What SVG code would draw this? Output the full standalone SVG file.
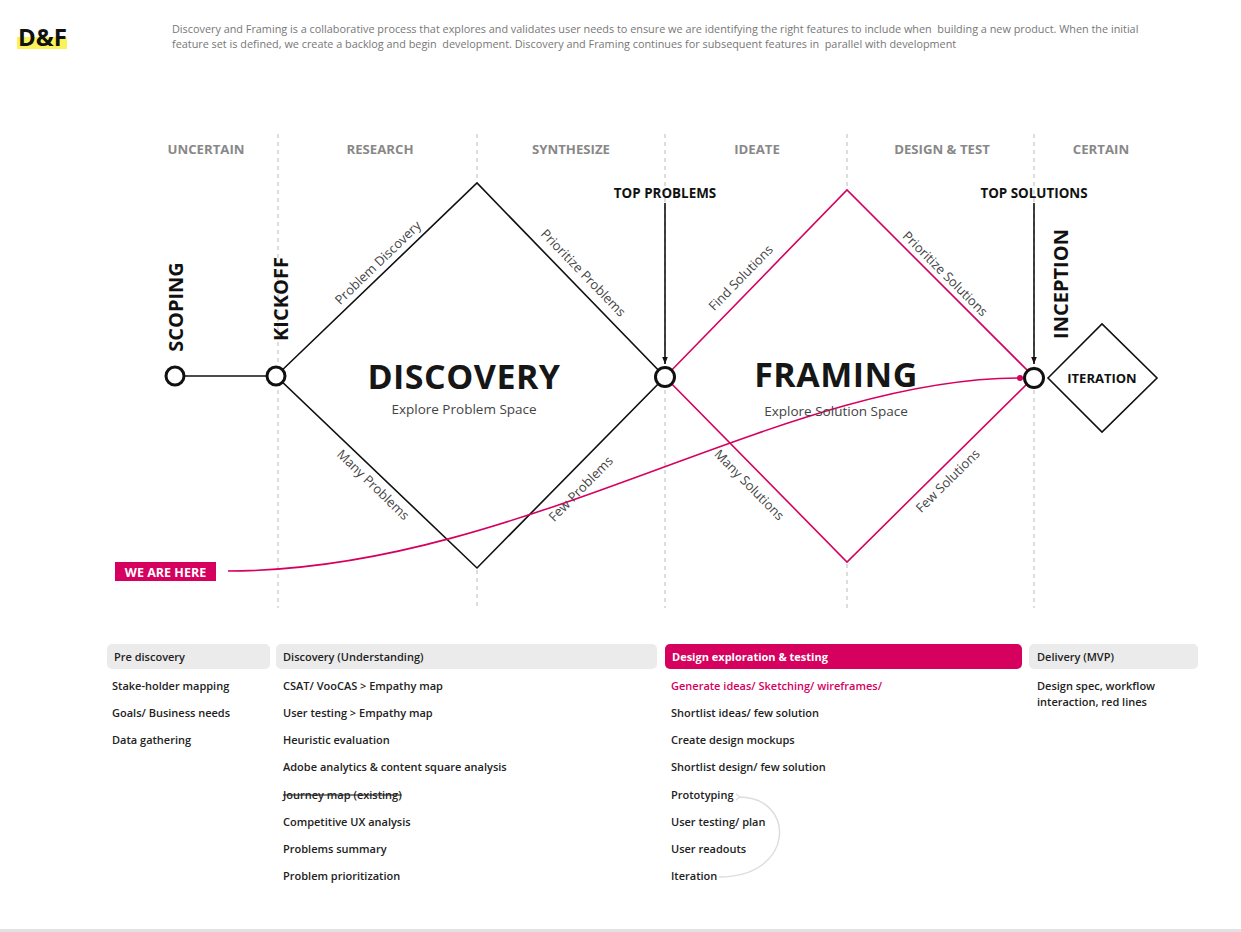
<svg xmlns="http://www.w3.org/2000/svg" width="1241" height="932" viewBox="0 0 1241 932">
<style>
text{font-family:"Open Sans","Liberation Sans",sans-serif}
.desc{font-size:10.85px;fill:#777;white-space:pre}
.col{font-size:13.2px;font-weight:700;fill:#888;text-anchor:middle}
.vert{font-size:20px;font-weight:700;fill:#111;text-anchor:middle}
.edge{font-size:13px;fill:#444;text-anchor:middle}
.big{font-size:34px;font-weight:700;fill:#161616;text-anchor:middle;letter-spacing:0.5px}
.sub{font-size:13.5px;fill:#444;text-anchor:middle}
.top{font-size:13.4px;font-weight:700;fill:#111;text-anchor:middle}
.hdr{font-size:11px;font-weight:600;fill:#222}
.item{font-size:11px;font-weight:600;fill:#222}
.dash{stroke:#bbb;stroke-width:1;stroke-dasharray:4 4;fill:none}
.node{fill:#fff;stroke:#111;stroke-width:3}
.blk{fill:none;stroke:#111;stroke-width:1.6}
.pink{fill:none;stroke:#d6005e;stroke-width:1.6}
.hbox{fill:#ebebeb}
</style>
<defs>
<marker id="arr" viewBox="0 0 10 10" refX="10" refY="5" markerWidth="7" markerHeight="10" markerUnits="userSpaceOnUse" orient="auto">
<path d="M0,1 L10,5 L0,9 Z" fill="#111"/>
</marker>
<marker id="garr" viewBox="0 0 10 10" refX="2" refY="5" markerWidth="8" markerHeight="8" markerUnits="userSpaceOnUse" orient="auto">
<path d="M6,1 L1,5 L6,9" fill="none" stroke="#ddd" stroke-width="1.5"/>
</marker>
</defs>
<rect width="1241" height="932" fill="#fff"/>
<rect x="0" y="929" width="1241" height="3" fill="#e2e2e2"/>

<g id="title">
<rect x="17" y="37" width="50" height="12" fill="#fbf25a"/>
<text x="18" y="46" font-size="24" font-weight="700" fill="#111">D&amp;F</text>
</g>
<g id="description">
<text class="desc" x="172" y="33">Discovery and Framing is a collaborative process that explores and validates user needs to ensure we are identifying the right features to include when  building a new product. When the initial</text>
<text class="desc" x="172" y="48">feature set is defined, we create a backlog and begin  development. Discovery and Framing continues for subsequent features in  parallel with development</text>
</g>

<g id="columns">
<text class="col" x="206" y="154">UNCERTAIN</text>
<text class="col" x="380" y="154">RESEARCH</text>
<text class="col" x="571" y="154">SYNTHESIZE</text>
<text class="col" x="757" y="154">IDEATE</text>
<text class="col" x="942" y="154">DESIGN &amp; TEST</text>
<text class="col" x="1101" y="154">CERTAIN</text>
</g>

<g id="gridlines">
<line class="dash" x1="278" y1="134" x2="278" y2="608"/>
<line class="dash" x1="477" y1="134" x2="477" y2="182"/>
<line class="dash" x1="477" y1="570" x2="477" y2="608"/>
<line class="dash" x1="665" y1="134" x2="665" y2="608"/>
<line class="dash" x1="847" y1="134" x2="847" y2="189"/>
<line class="dash" x1="847" y1="564" x2="847" y2="608"/>
<line class="dash" x1="1034" y1="134" x2="1034" y2="608"/>
</g>

<g id="connectors">
<line class="blk" x1="184" y1="376" x2="267" y2="376"/>
<path class="blk" d="M276,376 L477,183 L665,377 L477,568 Z"/>
<path class="pink" d="M665,377 L847,190 L1034,377 L847,562 Z"/>
<line x1="665" y1="203" x2="665" y2="364" stroke="#111" stroke-width="1.6" marker-end="url(#arr)"/>
<line x1="1034" y1="203" x2="1034" y2="364" stroke="#111" stroke-width="1.6" marker-end="url(#arr)"/>
<path class="pink" d="M228,571 C520,571 780,378 1020,378"/>
<circle cx="1020" cy="378" r="3" fill="#d6005e"/>
<path d="M719,877 C796,877 796,797 739,797" fill="none" stroke="#ddd" stroke-width="1.5" marker-end="url(#garr)"/>
</g>

<g id="edge-labels">
<text class="edge" transform="translate(381,266) rotate(-44)">Problem Discovery</text>
<text class="edge" transform="translate(580,276) rotate(46)">Prioritize Problems</text>
<text class="edge" transform="translate(370,488) rotate(44)">Many Problems</text>
<text class="edge" transform="translate(584,492) rotate(-45.5)">Few Problems</text>
<text class="edge" transform="translate(744,281) rotate(-45.8)">Find Solutions</text>
<text class="edge" transform="translate(942,277) rotate(45)">Prioritize Solutions</text>
<text class="edge" transform="translate(746,488) rotate(45.5)">Many Solutions</text>
<text class="edge" transform="translate(951,484) rotate(-44.7)">Few Solutions</text>
</g>

<g id="scoping">
<circle class="node" cx="175" cy="376" r="9"/>
<text class="vert" transform="translate(183,307) rotate(-90)">SCOPING</text>
</g>
<g id="kickoff">
<circle class="node" cx="276" cy="376" r="9"/>
<text class="vert" transform="translate(288,299) rotate(-90)">KICKOFF</text>
</g>
<g id="discovery">
<text class="big" x="464" y="389">DISCOVERY</text>
<text class="sub" x="464" y="414">Explore Problem Space</text>
</g>
<g id="top-problems">
<circle class="node" cx="665" cy="377" r="9.5"/>
<text class="top" x="665" y="198">TOP PROBLEMS</text>
</g>
<g id="framing">
<text class="big" x="836" y="387">FRAMING</text>
<text class="sub" x="836" y="416">Explore Solution Space</text>
</g>
<g id="inception">
<circle class="node" cx="1034" cy="378" r="9.5"/>
<text class="top" x="1034" y="198">TOP SOLUTIONS</text>
<text class="vert" transform="translate(1068,284) rotate(-90)">INCEPTION</text>
</g>
<g id="iteration">
<path class="blk" d="M1048,378 L1102,324 L1157,378 L1102,432 Z" fill="#fff"/>
<text x="1102" y="383" font-size="13" font-weight="700" fill="#111" text-anchor="middle">ITERATION</text>
</g>
<g id="we-are-here">
<rect x="115" y="562" width="101" height="19" fill="#d6005e"/>
<text x="165.5" y="576.5" font-size="12.5" font-weight="700" fill="#fff" text-anchor="middle">WE ARE HERE</text>
</g>

<g id="pre-discovery">
<rect class="hbox" x="107" y="644" width="163" height="25" rx="5"/>
<text class="hdr" x="114" y="661">Pre discovery</text>
<text class="item" x="112" y="690">Stake-holder mapping</text>
<text class="item" x="112" y="717">Goals/ Business needs</text>
<text class="item" x="112" y="744">Data gathering</text>
</g>
<g id="discovery-list">
<rect class="hbox" x="276" y="644" width="381" height="25" rx="5"/>
<text class="hdr" x="283" y="661">Discovery (Understanding)</text>
<text class="item" x="283" y="690">CSAT/ VooCAS &gt; Empathy map</text>
<text class="item" x="283" y="717">User testing &gt; Empathy map</text>
<text class="item" x="283" y="744">Heuristic evaluation</text>
<text class="item" x="283" y="771">Adobe analytics &amp; content square analysis</text>
<text class="item" x="283" y="799" text-decoration="line-through">Journey map (existing)</text>
<text class="item" x="283" y="826">Competitive UX analysis</text>
<text class="item" x="283" y="853">Problems summary</text>
<text class="item" x="283" y="880">Problem prioritization</text>
</g>
<g id="design-list">
<rect x="665" y="644" width="357" height="25" rx="5" fill="#d6005e"/>
<text class="hdr" x="672" y="661" style="fill:#fff;font-weight:700">Design exploration &amp; testing</text>
<text class="item" x="671" y="690" style="fill:#d6005e">Generate ideas/ Sketching/ wireframes/</text>
<text class="item" x="671" y="717">Shortlist ideas/ few solution</text>
<text class="item" x="671" y="744">Create design mockups</text>
<text class="item" x="671" y="771">Shortlist design/ few solution</text>
<text class="item" x="671" y="799">Prototyping</text>
<text class="item" x="671" y="826">User testing/ plan</text>
<text class="item" x="671" y="853">User readouts</text>
<text class="item" x="671" y="880">Iteration</text>
</g>
<g id="delivery-list">
<rect class="hbox" x="1029" y="644" width="169" height="25" rx="5"/>
<text class="hdr" x="1037" y="661">Delivery (MVP)</text>
<text class="item" x="1037" y="690">Design spec, workflow</text>
<text class="item" x="1037" y="706">interaction, red lines</text>
</g>
</svg>
